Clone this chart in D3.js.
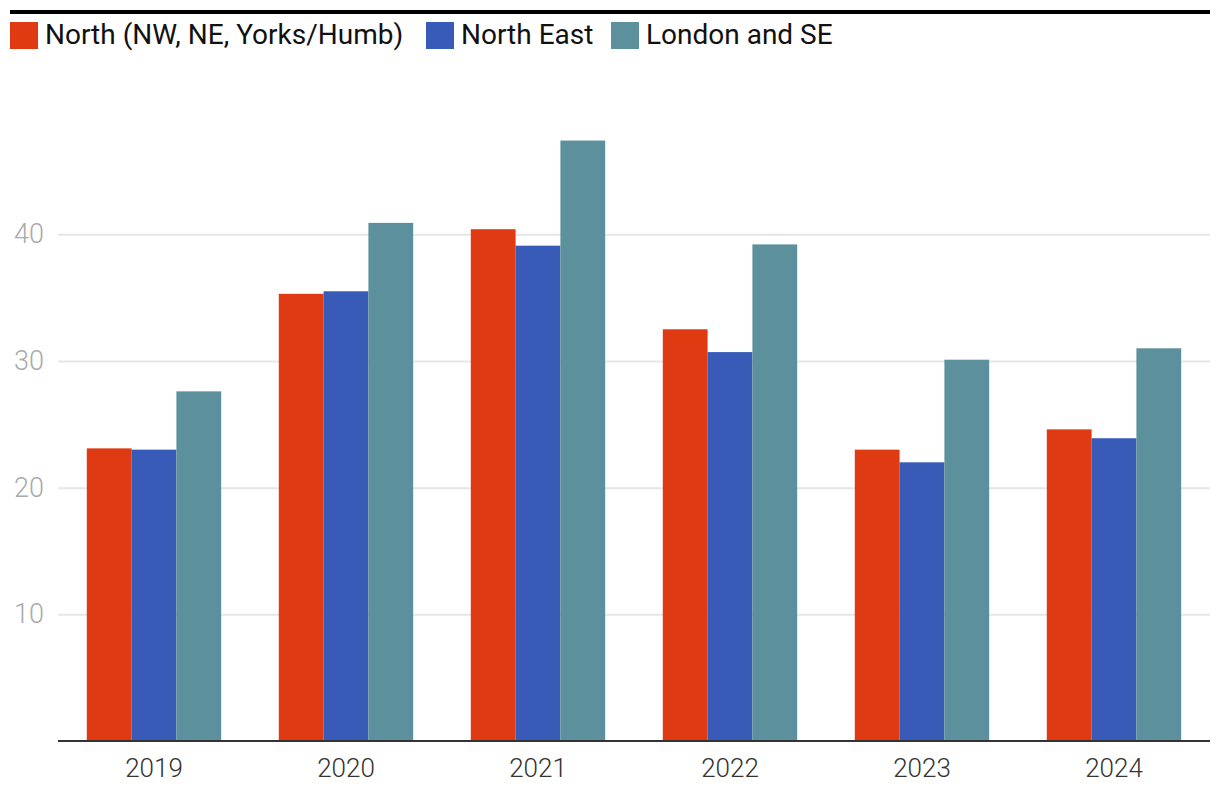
<!DOCTYPE html>
<html><head><meta charset="utf-8">
<script src="https://cdn.jsdelivr.net/npm/d3@7"></script>
<style>
html,body{margin:0;padding:0;background:#fff;}
svg{display:block;font-family:Roboto, "Open Sans", sans-serif;}
</style></head>
<body><svg id="c" width="1220" height="806"></svg>
<script>
const years = ["2019","2020","2021","2022","2023","2024"];
const seriesNames = ["North (NW, NE, Yorks/Humb)","North East","London and SE"];
const north = [23.1, 35.3, 40.4, 32.5, 23.0, 24.6];
const northEast = [23.0, 35.5, 39.1, 30.7, 22.0, 23.9];
const londonSE = [27.6, 40.9, 47.4, 39.2, 30.1, 31.0];
const yTicks = [10, 20, 30, 40];
const colors = ["#e03a13", "#385bb8", "#5b909c"];

(function(){
const seriesValues = [north, northEast, londonSE];
const svg = d3.select("#c");
const mLeft = 58, mRight = 1210, mTop = 100, mBottom = 741;

const x = d3.scaleBand().domain(years).range([mLeft, mRight]).paddingInner(0.3).paddingOuter(0.15);
const xs = d3.scaleBand().domain(d3.range(3)).range([0, x.bandwidth()]);
const y = d3.scaleLinear().domain([0, 50.6]).range([mBottom, mTop]);

// top rule
svg.append("rect").attr("x", 10).attr("y", 10).attr("width", 1200).attr("height", 4).attr("fill", "#000");

// legend
const legX = [10, 426, 611];
seriesNames.forEach((n, i) => {
  const g = svg.append("g").attr("transform", `translate(${legX[i]},22)`);
  g.append("rect").attr("width", 28).attr("height", 27).attr("fill", colors[i]);
  g.append("text").attr("x", 35).attr("y", 22).attr("font-size", 28).attr("fill", "#111").text(n);
});

// grid
const yAxis = d3.axisLeft(y).tickValues(yTicks).tickSize(-(mRight - mLeft)).tickPadding(14).tickFormat(d3.format("d"));
const ga = svg.append("g").attr("transform", `translate(${mLeft},0)`).call(yAxis);
ga.select(".domain").remove();
ga.selectAll(".tick line").attr("stroke", "#e6e6e6").attr("stroke-width", 2);
ga.selectAll(".tick text").attr("fill", "#aaaaaa").attr("font-size", 27).attr("font-family", "Roboto, sans-serif").attr("font-weight", 300);

// bars
years.forEach((yr, j) => {
  seriesValues.forEach((vals, i) => {
    svg.append("rect")
      .attr("x", x(yr) + xs(i))
      .attr("y", y(vals[j]))
      .attr("width", xs.bandwidth())
      .attr("height", y(0) - y(vals[j]))
      .attr("fill", colors[i]);
  });
});

// x axis
const xAxis = d3.axisBottom(x).tickSize(0).tickPadding(18);
const gx = svg.append("g").attr("transform", `translate(0,${mBottom})`).call(xAxis);
gx.select(".domain").remove();
gx.selectAll(".tick text").attr("fill", "#333").attr("font-size", 26).attr("font-family", "Roboto, sans-serif").attr("font-weight", 300);
svg.append("line").attr("x1", mLeft).attr("x2", mRight).attr("y1", mBottom).attr("y2", mBottom).attr("stroke", "#333").attr("stroke-width", 2);
})();
</script></body></html>
